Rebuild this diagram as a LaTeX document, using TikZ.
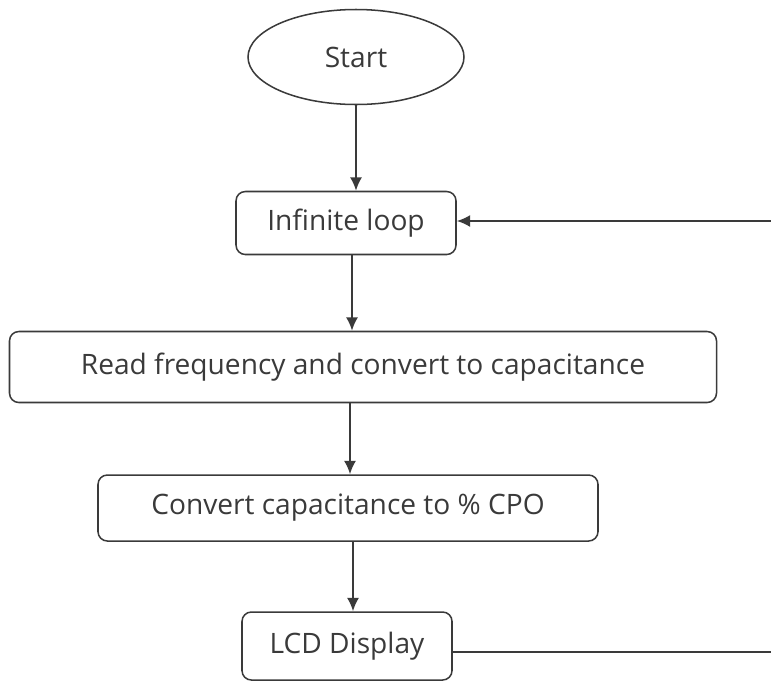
\documentclass[tikz,border=0pt]{standalone}
\usepackage{fontspec}
\setmainfont{Open Sans}
\usetikzlibrary{shapes.geometric,arrows.meta}
\definecolor{ink}{HTML}{3A3A3A}

\begin{document}
\begin{tikzpicture}[
    line width=1.3pt, draw=ink, text=ink,
    font=\fontsize{24}{28}\selectfont,
    stepbox/.style={draw, rounded corners=8pt, inner sep=0pt},
    flow/.style={-{Latex[length=4mm,width=3.6mm]}, line width=1.6pt}
  ]
        \useasboundingbox (0,0) rectangle (23.13,-20.4);
        % nodes
        \node[draw, ellipse, minimum width=6.48cm, minimum height=2.85cm, inner sep=0pt] (start) at (10.68,-1.71) {Start};
        \node[stepbox, minimum width=6.6cm, minimum height=1.89cm] (loop) at (10.38,-6.69) {Infinite loop};
        \node[stepbox, minimum width=21.21cm, minimum height=2.13cm] (read) at (10.89,-11.01) {Read frequency and convert to capacitance};
        \node[stepbox, minimum width=15cm, minimum height=1.98cm] (conv) at (10.44,-15.24) {Convert capacitance to \% CPO};
        \node[stepbox, minimum width=6.3cm, minimum height=2.04cm] (lcd) at (10.41,-19.38) {LCD Display};
        % edge of the page
        \coordinate (backin) at (23.13,-6.63);
        \coordinate (backout) at (23.13,-19.56);
        % arrows
        \draw[flow] (start.south) -- (start.south |- loop.north);
        \draw[flow] ([xshift=0.18cm]loop.south) -- ([xshift=0.18cm]loop.south |- read.north);
        \draw[flow] ([xshift=-0.39cm]read.south) -- ([xshift=-0.39cm]read.south |- conv.north);
        \draw[flow] ([xshift=0.15cm]conv.south) -- ([xshift=0.15cm]conv.south |- lcd.north);
        % back to the loop
        \draw[line width=1.6pt] (lcd.east |- backout) -- (backout);
        \draw[flow] (backin) -- (loop.east |- backin);
    \end{tikzpicture}
\end{document}
